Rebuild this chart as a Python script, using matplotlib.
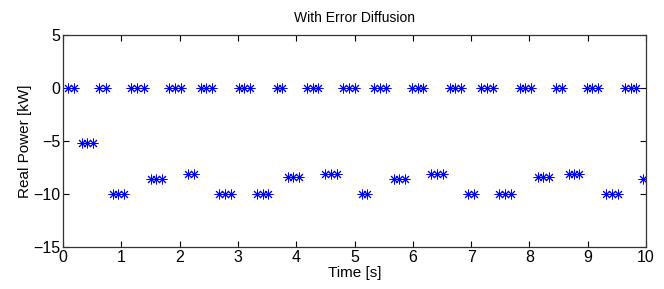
import matplotlib
matplotlib.use("Agg")
import matplotlib.pyplot as plt
import numpy as np

plt.rcParams['font.family'] = ['Liberation Sans', 'DejaVu Sans']

# sample times [s] and real power [kW]
t = [0.09, 0.19,
     0.32, 0.41, 0.52,
     0.62, 0.74,
     0.85, 0.95, 1.05,
     1.17, 1.27, 1.38,
     1.50, 1.60, 1.70,
     1.82, 1.92, 2.02,
     2.14, 2.24,
     2.36, 2.46, 2.56,
     2.68, 2.78, 2.88,
     3.01, 3.11, 3.21,
     3.32, 3.43, 3.52,
     3.67, 3.75,
     3.85, 3.95, 4.05,
     4.18, 4.28, 4.38,
     4.49, 4.60, 4.69,
     4.81, 4.91, 5.01,
     5.12, 5.22,
     5.34, 5.44, 5.54,
     5.67, 5.77, 5.87,
     5.98, 6.08, 6.18,
     6.31, 6.41, 6.51,
     6.63, 6.73, 6.83,
     6.95, 7.05,
     7.17, 7.27, 7.37,
     7.48, 7.58, 7.68,
     7.83, 7.92, 8.02,
     8.14, 8.24, 8.34,
     8.46, 8.56,
     8.67, 8.76, 8.85,
     8.99, 9.08, 9.18,
     9.31, 9.41, 9.51,
     9.64, 9.74, 9.83,
     9.94]

p = [0, 0,
     -5.2, -5.2, -5.2,
     0, 0,
     -10, -10, -10,
     0, 0, 0,
     -8.6, -8.6, -8.6,
     0, 0, 0,
     -8.15, -8.15,
     0, 0, 0,
     -10, -10, -10,
     0, 0, 0,
     -10, -10, -10,
     0, 0,
     -8.4, -8.4, -8.4,
     0, 0, 0,
     -8.1, -8.1, -8.1,
     0, 0, 0,
     -10, -10,
     0, 0, 0,
     -8.6, -8.6, -8.6,
     0, 0, 0,
     -8.1, -8.1, -8.1,
     0, 0, 0,
     -10, -10,
     0, 0, 0,
     -10, -10, -10,
     0, 0, 0,
     -8.4, -8.4, -8.4,
     0, 0,
     -8.1, -8.1, -8.1,
     0, 0, 0,
     -10, -10, -10,
     0, 0, 0,
     -8.6]

fig = plt.figure(figsize=(6.64, 2.89), dpi=100)
ax = fig.add_axes([0.095, 0.145, 0.878, 0.734])

ax.plot(t, p, ls='none', marker=(8, 2, 0), ms=7, mew=0.7, color='#0000ff')

ax.set_xlim(0, 10)
ax.set_ylim(-15, 5)
ax.set_xticks(np.arange(0, 11, 1))
ax.set_yticks(np.arange(-15, 6, 5))
ax.tick_params(direction='in', top=True, right=True, length=4.5, width=0.8,
               labelsize=11.5, colors='black', pad=2)
for s in ax.spines.values():
    s.set_color('#333333')
    s.set_linewidth(0.9)

ax.set_title("With Error Diffusion", fontsize=10, pad=9)
ax.set_xlabel("Time [s]", fontsize=11, labelpad=1)
ax.set_ylabel("Real Power [kW]", fontsize=11, labelpad=1)

fig.savefig("out.png", dpi=100)
